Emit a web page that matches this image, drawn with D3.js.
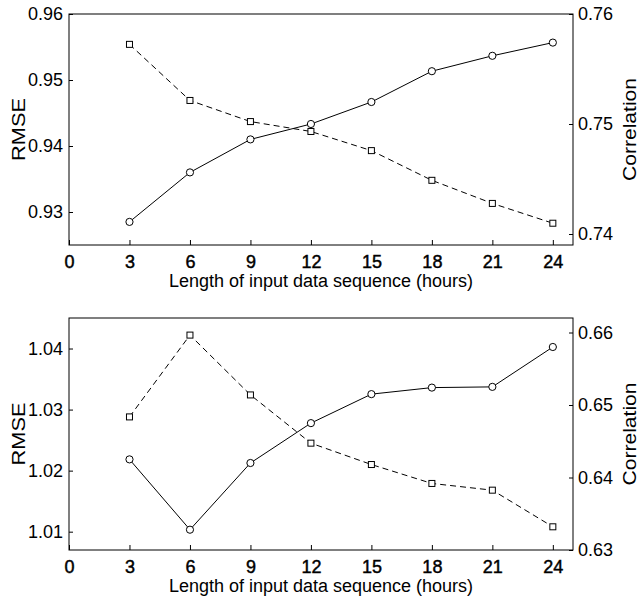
<!DOCTYPE html>
<html>
<head>
<meta charset="utf-8">
<script src="https://cdn.jsdelivr.net/npm/d3@7"></script>
<style>
  body { margin: 0; background: #fff; }
  text { font-family: "Liberation Sans", Arial, Helvetica, sans-serif; fill: #000; }
</style>
</head>
<body>
<div id="chart"></div>
<script>
// data
var hours = [3, 6, 9, 12, 15, 18, 21, 24];
var xTicks = [0, 3, 6, 9, 12, 15, 18, 21, 24];

var rmseTop = [0.9554, 0.9469, 0.9437, 0.9422, 0.9393, 0.9348, 0.9313, 0.9283];
var corrTop = [0.7411, 0.7456, 0.7486, 0.7500, 0.7520, 0.7548, 0.7562, 0.7574];
var rmseTopTicks = [0.93, 0.94, 0.95, 0.96];
var corrTopTicks = [0.74, 0.75, 0.76];

var rmseBottom = [1.0288, 1.0422, 1.0324, 1.0245, 1.0210, 1.0179, 1.0168, 1.0108];
var corrBottom = [0.6425, 0.6328, 0.6420, 0.6475, 0.6515, 0.6524, 0.6525, 0.6580];
var rmseBottomTicks = [1.01, 1.02, 1.03, 1.04];
var corrBottomTicks = [0.63, 0.64, 0.65, 0.66];

var W = 641, H = 605;
var left = 69, right = 573;

var svg = d3.select("#chart").append("svg")
    .attr("width", W)
    .attr("height", H);

var x = d3.scaleLinear().domain([0, 25]).range([left, right]);
var fmt = d3.format(".2f");

function panel(top, bottom, rmse, corr, rmseDomain, corrDomain, rmseTicks, corrTicks) {
    var yL = d3.scaleLinear().domain(rmseDomain).range([bottom, top]);
    var yR = d3.scaleLinear().domain(corrDomain).range([bottom, top]);
    var g = svg.append("g");

    // x axis, inward ticks
    var xa = g.append("g")
        .attr("transform", "translate(0," + bottom + ")")
        .call(d3.axisBottom(x).tickValues(xTicks).tickFormat(d3.format("d"))
            .tickSizeInner(-5).tickSizeOuter(0).tickPadding(10));
    xa.select(".domain").remove();
    xa.selectAll("text")
        .style("font-size", "18px")
        .style("font-family", "'Liberation Sans', Arial, sans-serif")
        .attr("stroke", "#000").attr("stroke-width", 0.45);

    // left axis
    var la = g.append("g")
        .attr("transform", "translate(" + left + ",0)")
        .call(d3.axisLeft(yL).tickValues(rmseTicks).tickFormat(fmt)
            .tickSizeInner(-4).tickSizeOuter(0).tickPadding(6));
    la.select(".domain").remove();
    la.selectAll("text").style("font-size", "18px")
        .style("font-family", "'Liberation Sans', Arial, sans-serif");

    // right axis
    var ra = g.append("g")
        .attr("transform", "translate(" + right + ",0)")
        .call(d3.axisRight(yR).tickValues(corrTicks).tickFormat(fmt)
            .tickSizeInner(-4).tickSizeOuter(0).tickPadding(5));
    ra.select(".domain").remove();
    ra.selectAll("text").style("font-size", "18px")
        .style("font-family", "'Liberation Sans', Arial, sans-serif");

    // frame
    g.append("rect")
        .attr("x", left).attr("y", top)
        .attr("width", right - left).attr("height", bottom - top)
        .attr("fill", "none").attr("stroke", "#000").attr("stroke-width", 1);

    // RMSE series: dashed with squares
    var rmseLine = d3.line().x(function(d, i) { return x(hours[i]); }).y(function(d) { return yL(d); });
    g.append("path").datum(rmse)
        .attr("d", rmseLine)
        .attr("fill", "none").attr("stroke", "#000").attr("stroke-width", 1)
        .attr("stroke-dasharray", "6,4");

    // correlation series: solid with circles
    var corrLine = d3.line().x(function(d, i) { return x(hours[i]); }).y(function(d) { return yR(d); });
    g.append("path").datum(corr)
        .attr("d", corrLine)
        .attr("fill", "none").attr("stroke", "#000").attr("stroke-width", 1);

    g.selectAll(".sq").data(rmse).enter().append("rect")
        .attr("x", function(d, i) { return x(hours[i]) - 3; })
        .attr("y", function(d) { return yL(d) - 3; })
        .attr("width", 6).attr("height", 6)
        .attr("fill", "#fff").attr("stroke", "#000").attr("stroke-width", 1);

    g.selectAll(".ci").data(corr).enter().append("circle")
        .attr("cx", function(d, i) { return x(hours[i]); })
        .attr("cy", function(d) { return yR(d); })
        .attr("r", 3.6)
        .attr("fill", "#fff").attr("stroke", "#000").attr("stroke-width", 1);

    // axis titles
    g.append("text")
        .attr("x", (left + right) / 2).attr("y", bottom + 42)
        .attr("text-anchor", "middle")
        .style("font-size", "18px")
        .text("Length of input data sequence (hours)");

    var mid = (top + bottom) / 2;
    g.append("text")
        .attr("transform", "translate(25," + mid + ") rotate(-90)")
        .attr("text-anchor", "middle")
        .attr("textLength", 63).attr("lengthAdjust", "spacingAndGlyphs")
        .style("font-size", "18px")
        .text("RMSE");

    g.append("text")
        .attr("transform", "translate(636," + mid + ") rotate(-90)")
        .attr("text-anchor", "middle")
        .attr("textLength", 103).attr("lengthAdjust", "spacingAndGlyphs")
        .style("font-size", "18px")
        .text("Correlation");
}

panel(14, 245, rmseTop, corrTop, [0.925, 0.96], [0.739, 0.76], rmseTopTicks, corrTopTicks);
panel(318, 550, rmseBottom, corrBottom, [1.007, 1.045], [0.63, 0.662], rmseBottomTicks, corrBottomTicks);
</script>
</body>
</html>
